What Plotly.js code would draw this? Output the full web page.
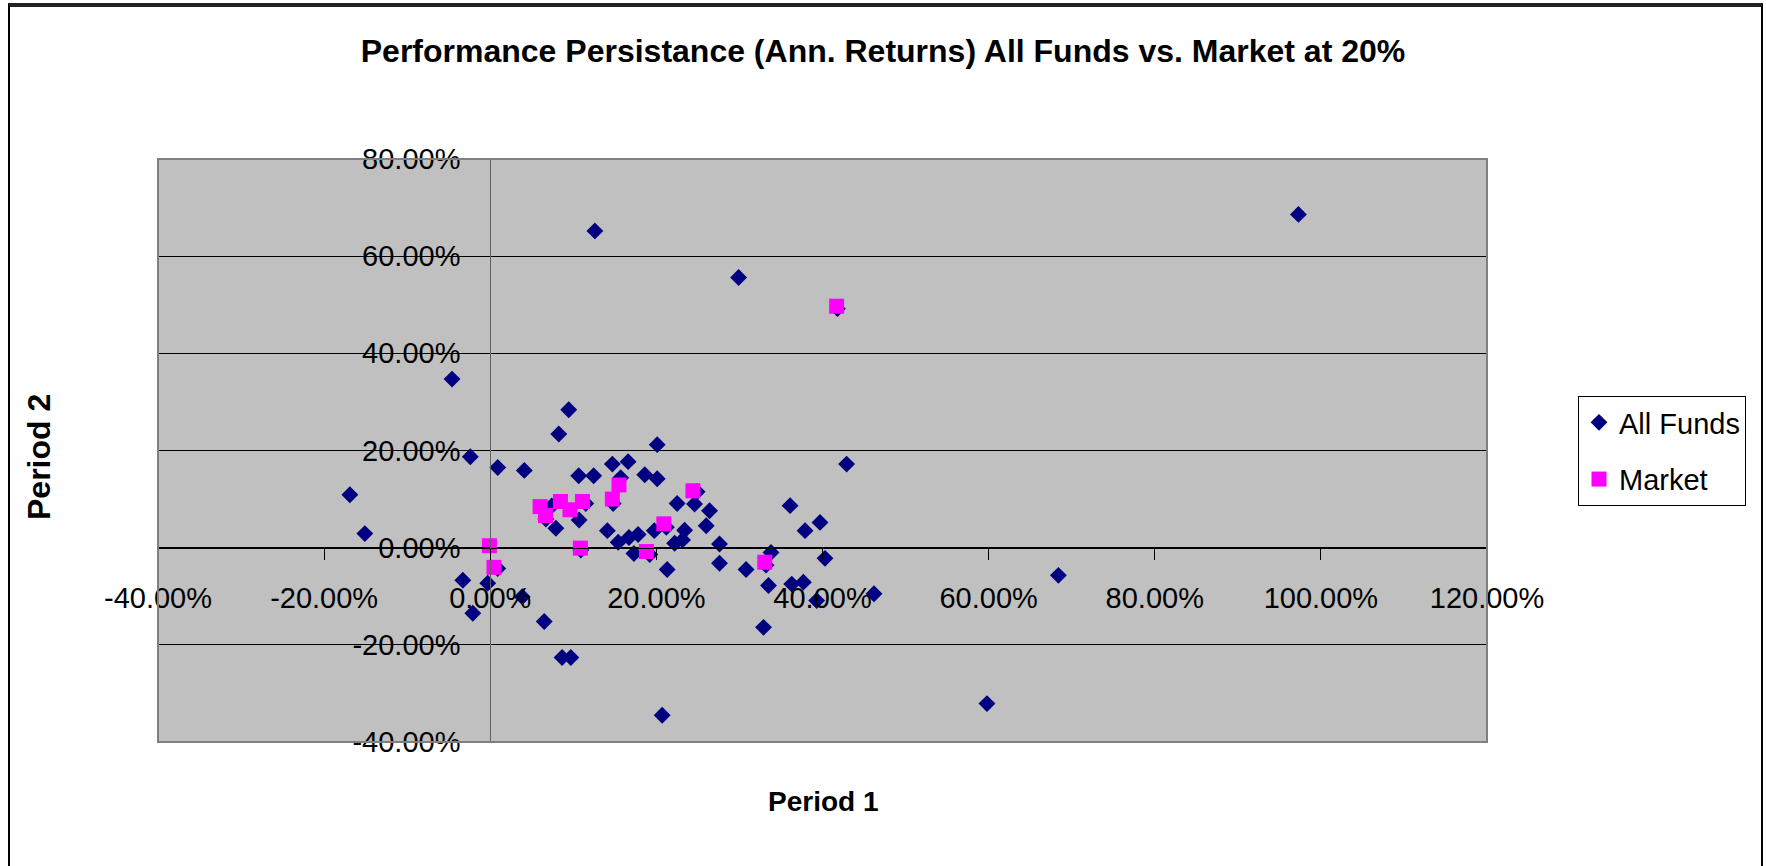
<!DOCTYPE html>
<html>
<head>
<meta charset="utf-8">
<script src="https://cdn.plot.ly/plotly-3.0.1.min.js"></script>
<style>
  html, body { margin: 0; padding: 0; background: #ffffff; }
  #wrap { position: relative; width: 1766px; height: 866px; overflow: hidden; }
  #chart { position: absolute; left: 0; top: 0; width: 1766px; height: 866px; }
  #frame { position: absolute; left: 8px; top: 3px; width: 1751px; height: 900px;
           border: 2px solid #000; border-top: 4px solid #222; pointer-events: none; }
</style>
</head>
<body>
<div id="wrap">
  <div id="chart"></div>
  <div id="frame"></div>
</div>
<script>
// Period 1 (x) and Period 2 (y) annualised returns, in percent
const fundsX = [97.3, 12.6, 29.9, 41.8, -4.6, 42.9, -16.9, -15.1, 59.8, 68.4, 46.2, 20.7,
  9.45, 8.25, -2.4, 0.9, 4.1, 20.1, 14.7, 16.6, 10.65, 12.45, 18.6, 20.1, 15.7, 14.8,
  22.5, 24.6, 24.9, 26.4, 26.0, 36.1, 37.9, 39.7, 40.3, 27.6, 27.6, 30.8, 33.8, 33.5,
  36.3, 37.7, 39.3, 32.9, 21.3, 14.1, 15.4, 16.7, 17.8, 17.3, 19.2, 19.75, 21.2, 22.2,
  23.15, 23.4, 7.9, 10.7, 11.5, 6.7, 10.9, 0.9, -3.3, -0.3, -2.1, 3.85, 6.5, 8.65, 9.7,
  33.2, 7.4];
const fundsY = [68.6, 65.2, 55.6, 49.2, 34.7, 17.2, 10.9, 2.9, -32.1, -5.7, -9.5, -34.5,
  28.4, 23.4, 18.7, 16.5, 15.9, 21.2, 17.2, 17.7, 14.8, 14.8, 15.0, 14.2, 14.4, 9.1,
  9.1, 9.0, 11.5, 7.6, 4.5, 8.65, 3.5, 5.2, -2.2, 0.75, -3.2, -4.5, -1.0, -7.8,
  -7.5, -7.1, -10.9, -16.4, -4.5, 3.5, 1.1, 2.1, 2.7, -1.2, -1.4, 3.5, 4.2, 0.9,
  1.6, 3.6, 4.0, 5.7, 9.1, 5.9, -0.5, -4.3, -6.7, -7.3, -13.5, -10.1, -15.2, -22.6, -22.6,
  -3.6, 8.6];
const marketX = [41.7, -0.1, 0.45, 6.0, 6.65, 8.45, 9.6, 11.1, 10.85, 14.7, 15.5, 18.8, 20.9, 24.4, 33.05];
const marketY = [49.7, 0.4, -4.05, 8.45, 6.6, 9.5, 7.8, 9.5, -0.1, 10.0, 12.9, -0.8, 4.9, 11.7, -3.0];

const seriesNames = ['All Funds', 'Market'];
const chartTitle = 'Performance Persistance (Ann. Returns) All Funds vs. Market at 20%';
const xTitle = 'Period 1';
const yTitle = 'Period 2';
const xTickVals = [-40, -20, 0, 20, 40, 60, 80, 100, 120];
const xTickText = ['-40.00%', '-20.00%', '0.00%', '20.00%', '40.00%', '60.00%', '80.00%', '100.00%', '120.00%'];
const yTickVals = [-40, -20, 0, 20, 40, 60, 80];
const yTickText = ['-40.00%', '-20.00%', '0.00%', '20.00%', '40.00%', '60.00%', '80.00%'];

const FONT = 'Liberation Sans, Arial, Helvetica, sans-serif';

const traces = [
  { x: fundsX, y: fundsY, name: seriesNames[0], type: 'scatter', mode: 'markers', legendgroup: 'a',
    marker: { symbol: 'diamond', size: 13, color: '#000080', line: { width: 0 } } },
  { x: marketX, y: marketY, name: seriesNames[1], type: 'scatter', mode: 'markers', legendgroup: 'b',
    marker: { symbol: 'square', size: 15, color: '#FF00FF', line: { width: 0 } } }
];

const layout = {
  width: 1766, height: 866,
  margin: { l: 158, r: 279, t: 159, b: 124, pad: 0 },
  paper_bgcolor: 'rgba(0,0,0,0)',
  plot_bgcolor: '#C0C0C0',
  font: { family: FONT, color: '#000' },
  title: { text: '<b>' + chartTitle + '</b>', font: { family: FONT, size: 32, color: '#000' },
           x: 0.5, xref: 'container', xanchor: 'center', y: 1 - 51 / 866, yref: 'container', yanchor: 'middle' },
  xaxis: {
    range: [-40, 120], tickmode: 'array', tickvals: xTickVals, ticktext: xTickText,
    showgrid: false, zeroline: false,
    showline: true, linecolor: '#000', linewidth: 1,
    ticks: 'outside', ticklen: 11, tickcolor: '#000', tickwidth: 1,
    anchor: 'free', position: 1 / 3,
    tickfont: { family: FONT, size: 29, color: '#000' },
    ticklabelstandoff: 14,
    domain: [0, 1]
  },
  yaxis: {
    range: [-40, 80], tickmode: 'array', tickvals: yTickVals, ticktext: yTickText,
    showgrid: true, gridcolor: '#000', gridwidth: 1,
    zeroline: false,
    showline: true, linecolor: '#606060', linewidth: 1,
    ticks: 'outside', ticklen: 10, tickcolor: '#000', tickwidth: 1,
    anchor: 'free', position: 0.25,
    tickfont: { family: FONT, size: 29, color: '#000' },
    ticklabelstandoff: 14,
    domain: [0, 1]
  },
  showlegend: true,
  legend: {
    x: (1578 - 158) / 1329, xanchor: 'left', xref: 'paper',
    y: (742 - 396) / 583, yanchor: 'top', yref: 'paper',
    bgcolor: '#fff', bordercolor: '#000', borderwidth: 1,
    font: { family: FONT, size: 29, color: '#000' },
    itemsizing: 'trace', tracegroupgap: 16, valign: 'middle'
  },
  shapes: [
    { type: 'rect', xref: 'paper', yref: 'paper', x0: 0, x1: 1, y0: 0, y1: 1,
      line: { color: '#808080', width: 2 }, fillcolor: 'rgba(0,0,0,0)', layer: 'above' }
  ],
  annotations: [
    { text: '<b>' + xTitle + '</b>', xref: 'paper', yref: 'paper', x: 0.5, y: -(801 - 742) / 583,
      xanchor: 'center', yanchor: 'middle', showarrow: false, font: { family: FONT, size: 28, color: '#000' } },
    { text: '<b>' + yTitle + '</b>', xref: 'paper', yref: 'paper', x: -(158 - 39) / 1329, y: (742 - 457) / 583,
      xanchor: 'center', yanchor: 'middle', textangle: -90, showarrow: false, font: { family: FONT, size: 32, color: '#000' } }
  ]
};

Plotly.newPlot('chart', traces, layout, { displayModeBar: false, staticPlot: true });
</script>
</body>
</html>
